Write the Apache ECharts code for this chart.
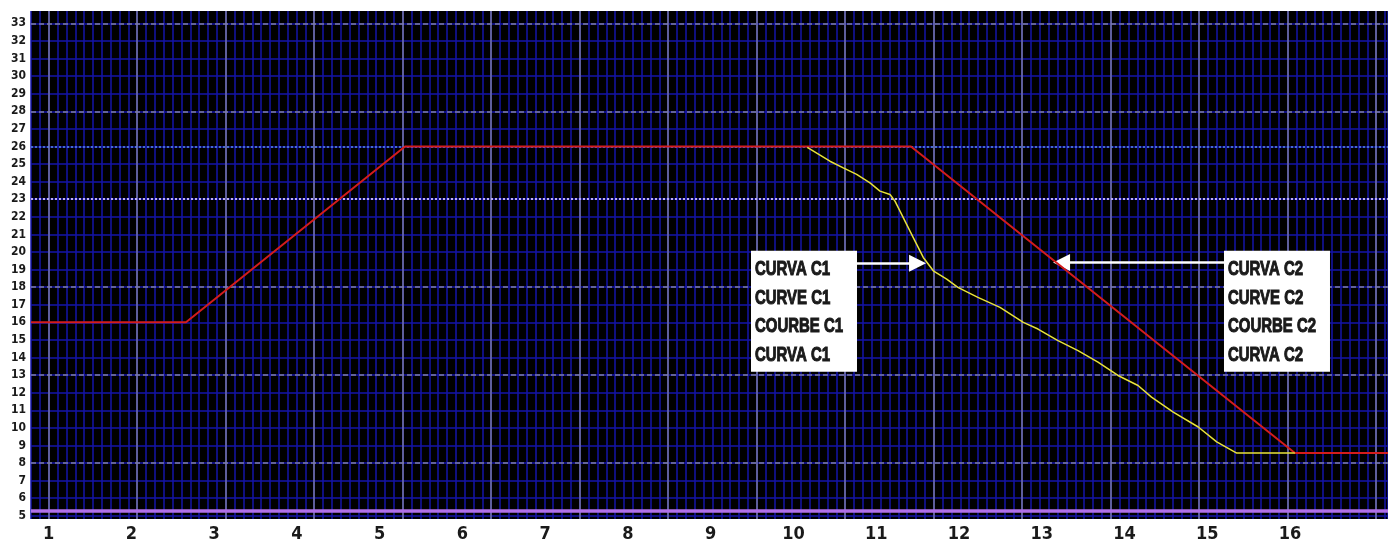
<!DOCTYPE html>
<html><head><meta charset="utf-8">
<script src="https://cdn.jsdelivr.net/npm/echarts@6/dist/echarts.min.js"></script>
<style>html,body{margin:0;padding:0;background:#fff}#c{width:1388px;height:543px}</style>
</head><body><div id="c"></div>
<script>
// ---- data ----
const xLabels = [1,2,3,4,5,6,7,8,9,10,11,12,13,14,15,16];
const yLabels = [5,6,7,8,9,10,11,12,13,14,15,16,17,18,19,20,21,22,23,24,25,26,27,28,29,30,31,32,33];
const curveC2 = [[0.786,16],[2.659,16],[5.306,26],[11.42,26],[16.06,8.57],[17.185,8.57]];
const curveC1 = [[10.167,25.95],[10.441,25.16],[10.602,24.78],[10.764,24.41],[10.925,23.93],[11.046,23.46],
  [11.167,23.27],[11.227,22.89],[11.327,21.95],[11.448,20.82],[11.569,19.69],[11.690,18.93],[11.852,18.46],
  [11.987,17.99],[12.229,17.42],[12.496,16.85],[12.778,16.0],[12.955,15.62],[13.197,14.96],[13.439,14.39],
  [13.680,13.74],[13.922,12.98],[14.164,12.41],[14.327,11.75],[14.590,10.90],[14.892,10.05],[15.115,9.20],
  [15.357,8.57],[16.06,8.57]];
const gridMajorX = [0,1,2,3,4,5,6,7,8,9,10,11,12,13,14,15];
const dashedY = [8,13,18,28,33];
const refLine26 = 26, refLine23 = 23, baseLine = 5.28;
const arrowC1 = [[10.756,19.36],[11.50,19.36]];
const arrowC2 = [[15.203,19.4],[13.24,19.4]];
const boxC1 = [9.487,16.63], boxC2 = [15.203,16.63];
const textC1 = ['CURVA C1','CURVE C1','COURBE C1','CURVA C1'];
const textC2 = ['CURVA C2','CURVE C2','COURBE C2','CURVA C2'];

const FONT = "'Liberation Sans Narrow','DejaVu Sans Condensed',sans-serif";
const BOXFAMILY = "'Liberation Sans','DejaVu Sans',sans-serif";
const blue = '#1414a8';

const chart = echarts.init(document.getElementById('c'));
chart.setOption({
  animation:false,
  backgroundColor:'#ffffff',
  grid:{left:31, top:11, right:0, bottom:22.3, show:true, backgroundColor:'#000000', borderWidth:0},
  xAxis:[
    {type:'value', min:0.786, max:17.185,
     axisLine:{show:false}, axisTick:{show:false}, splitLine:{show:false},
     axisLabel:{customValues:xLabels, fontSize:18, fontWeight:'bold', fontFamily:FONT, color:'#1a1a1a', margin:6}},
    {type:'value', position:'top', min:-0.2, max:15.133, interval:0.1,
     axisLine:{show:false}, axisTick:{show:false}, axisLabel:{show:false},
     splitLine:{show:true, lineStyle:{color:blue, width:1.5}}}
  ],
  yAxis:[
    {type:'value', min:4.82, max:33.7,
     axisLine:{show:false}, axisTick:{show:false, customValues:yLabels},
     axisLabel:{customValues:yLabels, fontSize:12, fontWeight:'bold', fontFamily:FONT, color:'#1a1a1a', margin:5},
     splitLine:{show:true, lineStyle:{color:blue, width:1.5}}}
  ],
  series:[
    {type:'line', xAxisIndex:1, data:[], z:1, silent:true,
     markLine:{silent:true, symbol:'none', label:{show:false}, animation:false,
       lineStyle:{color:'#7a7aa8', width:1.5, type:'solid'},
       data: gridMajorX.map(g=>({xAxis:g}))}},
    {type:'line', xAxisIndex:0, data:[], z:2, silent:true,
     markLine:{silent:true, symbol:'none', label:{show:false}, animation:false,
       data: dashedY.map(v=>({yAxis:v, lineStyle:{color:'#8080a4', width:1.5, type:[5,3]}})).concat([
         {yAxis:refLine26, lineStyle:{color:'#5a8ee0', width:1.5, type:[2,2]}},
         {yAxis:refLine23, lineStyle:{color:'#c0b0ee', width:2, type:[2,2]}},
         {yAxis:baseLine, lineStyle:{color:'#b070e8', width:3.5, type:'solid'}}
       ])}},
    {name:'C2', type:'line', data:curveC2, showSymbol:false, z:5,
     lineStyle:{color:'#d41c1c', width:2}, itemStyle:{color:'#d41c1c'},
     markLine:{silent:true, symbol:['none','triangle'], symbolSize:17, label:{show:false},
       lineStyle:{color:'#ffffff', width:2.5, type:'solid'}, itemStyle:{color:'#ffffff'},
       data:[[{coord:arrowC2[0]},{coord:arrowC2[1]}]]}},
    {name:'C1', type:'line', data:curveC1, showSymbol:false, z:6,
     lineStyle:{color:'#e8e23a', width:1.5}, itemStyle:{color:'#e8e23a'},
     markLine:{silent:true, symbol:['none','triangle'], symbolSize:17, label:{show:false},
       lineStyle:{color:'#ffffff', width:2.5, type:'solid'}, itemStyle:{color:'#ffffff'},
       data:[[{coord:arrowC1[0]},{coord:arrowC1[1]}]]}}
  ]
});

// annotation boxes anchored at data coordinates (left-middle of box)
const ctx = document.createElement('canvas').getContext('2d');
ctx.font = "bold 21px " + BOXFAMILY;
function makeBox(anchor, lines){
  const p = chart.convertToPixel({xAxisIndex:0, yAxisIndex:0}, anchor);
  const W = 106, H = 121, lh = 28.7;
  const widest = Math.max.apply(null, lines.map(t=>ctx.measureText(t).width));
  const sx = Math.min(1, 88 / widest);
  const children = [{type:'rect', z:100, shape:{x:0, y:-H/2, width:W, height:H}, style:{fill:'#ffffff'}}];
  lines.forEach((t,i)=>{
    children.push({type:'text', z:101, x:4, y:-H/2 + 18.5 + i*lh, scaleX:sx, scaleY:1,
      style:{text:t, fontSize:21, fontWeight:'bold', fontFamily:BOXFAMILY, fill:'#1a1a1a',
             stroke:'#1a1a1a', lineWidth:1.1,
             align:'left', verticalAlign:'middle', textAlign:'left', textVerticalAlign:'middle'}});
  });
  return {type:'group', x:p[0], y:p[1], z:100, silent:true, children};
}
chart.setOption({graphic:[makeBox(boxC1, textC1), makeBox(boxC2, textC2)]});
</script></body></html>
